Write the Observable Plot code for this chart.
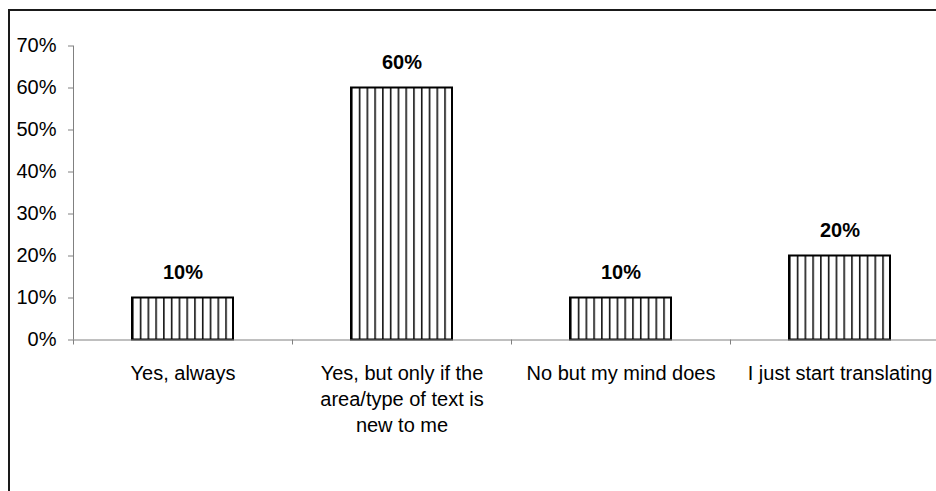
<!DOCTYPE html>
<html><head><meta charset="utf-8">
<script src="https://cdn.jsdelivr.net/npm/d3@7"></script>
<script src="https://cdn.jsdelivr.net/npm/@observablehq/plot@0.6"></script>
<style>
html,body{margin:0;padding:0;background:#fff;overflow:hidden;width:936px;height:491px;}
#wrap{position:relative;width:936px;height:491px;overflow:hidden;}
#chart{position:absolute;left:0;top:0;}
#border{position:absolute;left:8px;top:9px;width:1100px;height:1000px;border:2px solid #1a1a1a;box-sizing:border-box;pointer-events:none;}
</style></head><body>
<div id="wrap"><div id="chart"></div><div id="border"></div></div>
<script>
const categories = [
  "Yes, always",
  "Yes, but only if the\narea/type of text is\nnew to me",
  "No but my mind does",
  "I just start translating"
];
const values = [0.10, 0.60, 0.10, 0.20];
const yTicks = [0, 0.1, 0.2, 0.3, 0.4, 0.5, 0.6, 0.7];

const data = categories.map((c, i) => ({category: c, value: values[i]}));
const xRange = [73, 949];
const half = (xRange[1] - xRange[0]) / categories.length / 2;
const pct = d3.format(".0%");
const font = "'Liberation Sans', Arial, Helvetica, sans-serif";

const defs = () => {
  const d = d3.create("svg:defs");
  const p = d.append("pattern")
    .attr("id", "vstripes")
    .attr("patternUnits", "objectBoundingBox")
    .attr("width", 1 / 13)
    .attr("height", 1);
  p.append("rect").attr("width", 20).attr("height", 1000).attr("fill", "#fff");
  p.append("line").attr("x1", 0).attr("x2", 0).attr("y1", 0).attr("y2", 1000)
    .attr("stroke", "#111").attr("stroke-width", 3.2);
  return d.node();
};

const chart = Plot.plot({
  width: 936,
  height: 491,
  marginTop: 45.5,
  marginBottom: 151.5,
  marginLeft: 73,
  marginRight: 0,
  style: {fontFamily: font, fontSize: "20px", background: "transparent", color: "#000", overflow: "visible"},
  x: {domain: categories, range: xRange, paddingInner: 0.54, paddingOuter: 0.27, align: 0.5},
  y: {domain: [0, 0.7]},
  marks: [
    defs,
    Plot.barY(data, {x: "category", y: "value", fill: "url(#vstripes)", stroke: "#000", strokeWidth: 2}),
    Plot.ruleY([0], {stroke: "#808080", strokeWidth: 1}),
    Plot.ruleX([categories[0]], {dx: -half, y1: 0, y2: 0.7, stroke: "#808080", strokeWidth: 1}),
    Plot.axisY({ticks: yTicks, tickFormat: pct, tickSize: 5, tickPadding: 12, stroke: "#808080", fill: "#000", fontSize: 20, label: null}),
    Plot.axisX({tickSize: 5, dx: -half, tickFormat: () => "", stroke: "#808080", label: null}),
    Plot.axisX({tickSize: 0, tickPadding: 22, lineHeight: 1.3, fill: "#000", fontSize: 20, label: null}),
    Plot.text(data, {x: "category", y: "value", text: d => pct(d.value), dy: -25, fontWeight: "bold", fontSize: 20, fill: "#000"})
  ]
});
document.getElementById("chart").appendChild(chart);
</script>
</body></html>
